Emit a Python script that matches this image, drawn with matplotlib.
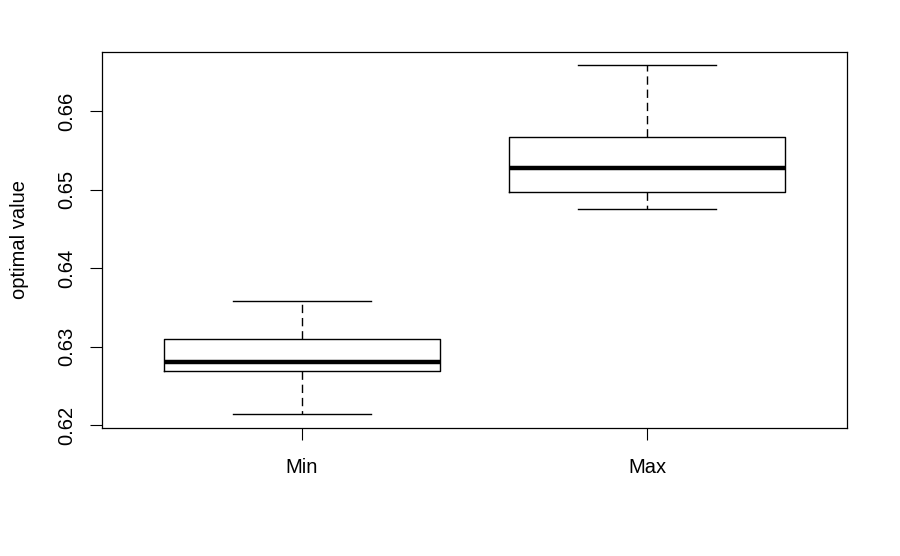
import matplotlib
matplotlib.use("Agg")
import matplotlib.pyplot as plt

plt.rcParams['font.family'] = ['Liberation Sans', 'DejaVu Sans']

groups = ["Min", "Max"]
whislo = [0.6214, 0.6475]
q1 = [0.6269, 0.6497]
med = [0.6280, 0.6528]
q3 = [0.6310, 0.6567]
whishi = [0.6358, 0.6658]

stats = []
for i, g in enumerate(groups):
    stats.append(dict(label=g, whislo=whislo[i], q1=q1[i], med=med[i],
                      q3=q3[i], whishi=whishi[i], fliers=[]))

fig = plt.figure(figsize=(9, 5.56), dpi=100)
ax = fig.add_axes([0.1133, 0.2302, 0.8278, 0.6763])

ax.bxp(stats, positions=[1, 2], widths=0.8, showfliers=False,
       boxprops=dict(color='black', linewidth=1.0),
       medianprops=dict(color='black', linewidth=3.2, solid_capstyle='butt'),
       whiskerprops=dict(color='black', linewidth=1.0, linestyle=(0, (6, 3.5))),
       capprops=dict(color='black', linewidth=1.0),
       capwidths=0.4)

ax.set_xlim(0.42, 2.58)
ax.set_ylim(0.61962, 0.66752)
ax.set_yticks([0.62, 0.63, 0.64, 0.65, 0.66])
ax.set_yticklabels(["0.62", "0.63", "0.64", "0.65", "0.66"], rotation=90, va='center')
ax.set_xticks([1, 2])
ax.set_xticklabels(groups)
ax.tick_params(axis='both', length=8.5, width=0.8, labelsize=14.5)
ax.tick_params(axis='y', pad=10)
ax.tick_params(axis='x', pad=13)
for s in ax.spines.values():
    s.set_linewidth(0.9)
ax.set_ylabel("optimal value", fontsize=14.5, labelpad=20)

fig.savefig("out.png", dpi=100)
